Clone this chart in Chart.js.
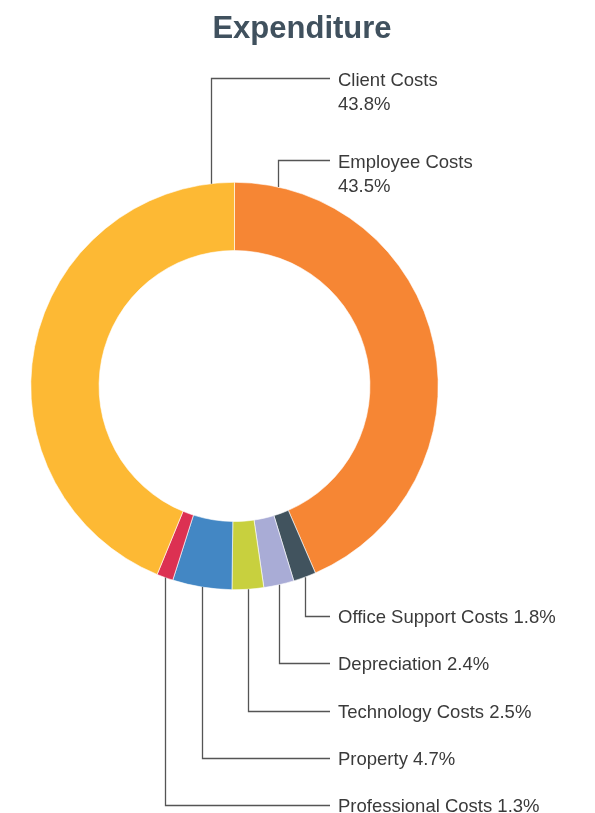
<!DOCTYPE html>
<html>
<head>
<meta charset="utf-8">
<script src="https://cdn.jsdelivr.net/npm/chart.js@4.4.0/dist/chart.umd.min.js"></script>
<style>
  html, body { margin: 0; padding: 0; background: #fff; }
  #wrap { width: 595px; height: 813px; position: relative; }
</style>
</head>
<body>
<div id="wrap"><canvas id="chart" width="595" height="813"></canvas></div>
<script>
// данные
const categories = ['Employee Costs', 'Office Support Costs', 'Depreciation', 'Technology Costs', 'Property', 'Professional Costs', 'Client Costs'];
const shares = [43.5, 1.8, 2.4, 2.5, 4.7, 1.3, 43.8];
const sliceColors = ['#f68634', '#41535e', '#a9acd6', '#c8d03e', '#4387c4', '#dc3152', '#fdb934'];

// подписи: верхние в две строки, нижние в одну
const FONT = '18.5px "Liberation Sans", Arial, sans-serif';
const TEXT_COLOR = '#3a3a3a';
const LINE_COLOR = '#555555';
const LABEL_X = 338;
const LINE_END_X = 330;

// где ставить подписи (индекс среза -> позиция)
const labelLayout = {
  6: { y: 78, anchorDeg: -6.6, twoLines: true },
  0: { y: 160, anchorDeg: 12.3, twoLines: true },
  1: { y: 616 },
  2: { y: 663 },
  3: { y: 711 },
  4: { y: 758 },
  5: { y: 805 }
};

const leaderPlugin = {
  id: 'leaders',
  afterDraw(chart) {
    const ctx = chart.ctx;
    const meta = chart.getDatasetMeta(0);
    ctx.save();

    // заголовок
    ctx.fillStyle = '#40515e';
    ctx.font = 'bold 31px "Liberation Sans", Arial, sans-serif';
    ctx.textAlign = 'center';
    ctx.textBaseline = 'middle';
    ctx.fillText('Expenditure', 302, 29);

    meta.data.forEach((arc, i) => {
      const cfg = labelLayout[i];
      if (!cfg) return;
      const p = arc.getProps(['x', 'y', 'startAngle', 'endAngle', 'outerRadius'], true);
      let ang = (p.startAngle + p.endAngle) / 2;
      if (cfg.anchorDeg !== undefined) ang = (cfg.anchorDeg - 90) * Math.PI / 180;
      const sx = Math.round(p.x + Math.cos(ang) * p.outerRadius) + 0.5;
      const sy = p.y + Math.sin(ang) * p.outerRadius;
      const ly = Math.round(cfg.y) + 0.5;

      ctx.strokeStyle = LINE_COLOR;
      ctx.lineWidth = 1.3;
      ctx.beginPath();
      ctx.moveTo(sx, sy);
      ctx.lineTo(sx, ly);
      ctx.lineTo(LINE_END_X, ly);
      ctx.stroke();

      const value = shares[i].toFixed(1) + '%';
      ctx.fillStyle = TEXT_COLOR;
      ctx.font = FONT;
      ctx.textAlign = 'left';
      ctx.textBaseline = 'middle';
      if (cfg.twoLines) {
        ctx.fillText(categories[i], LABEL_X, cfg.y + 2.5);
        ctx.fillText(value, LABEL_X, cfg.y + 26.5);
      } else {
        ctx.fillText(categories[i] + ' ' + value, LABEL_X, cfg.y + 1.5);
      }
    });
    ctx.restore();
  }
};

function initChart() {
  new Chart(document.getElementById('chart').getContext('2d'), {
    type: 'doughnut',
    data: {
      labels: categories,
      datasets: [{
        data: shares,
        backgroundColor: sliceColors,
        borderColor: '#ffffff',
        borderWidth: 0.6
      }]
    },
    options: {
      responsive: false,
      animation: false,
      cutout: '66.5%',
      layout: {
        padding: { left: 30, right: 156, top: 182, bottom: 223 }
      },
      plugins: {
        legend: { display: false },
        tooltip: { enabled: false },
        title: { display: false }
      }
    },
    plugins: [leaderPlugin]
  });
}

document.addEventListener('DOMContentLoaded', initChart);
</script>
</body>
</html>
